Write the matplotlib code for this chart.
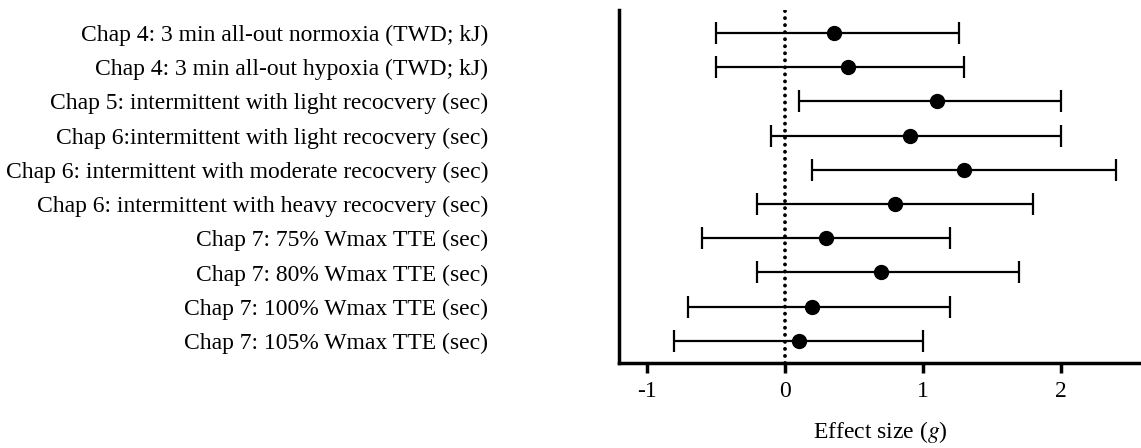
import matplotlib.pyplot as plt

# 数据（从图上读出的效应量及置信区间）
labels = [
    "Chap 4: 3 min all-out normoxia (TWD; kJ)",
    "Chap 4: 3 min all-out hypoxia (TWD; kJ)",
    "Chap 5: intermittent with light recocvery (sec)",
    "Chap 6:intermittent with light recocvery (sec)",
    "Chap 6: intermittent with moderate recocvery (sec)",
    "Chap 6: intermittent with heavy recocvery (sec)",
    "Chap 7: 75% Wmax TTE (sec)",
    "Chap 7: 80% Wmax TTE (sec)",
    "Chap 7: 100% Wmax TTE (sec)",
    "Chap 7: 105% Wmax TTE (sec)",
]
effect = [0.36, 0.46, 1.10, 0.91, 1.30, 0.80, 0.30, 0.70, 0.20, 0.10]
lower = [-0.50, -0.50, 0.10, -0.10, 0.20, -0.20, -0.60, -0.20, -0.70, -0.80]
upper = [1.26, 1.30, 2.00, 2.00, 2.40, 1.80, 1.20, 1.70, 1.20, 1.00]
xticks = [-1, 0, 1, 2]

plt.rcParams['font.family'] = ['Liberation Serif', 'DejaVu Serif']
plt.rcParams['mathtext.fontset'] = 'stix'

fig = plt.figure(figsize=(11.41, 4.48), dpi=100)
ax = fig.add_axes([0.5425, 0.19, 0.4575, 0.788])

n = len(labels)
ypos = [n - 1 - i for i in range(n)]
err_lo = [e - l for e, l in zip(effect, lower)]
err_hi = [u - e for e, u in zip(effect, upper)]

# 零线（点线）
ax.axvline(0, color='black', linestyle=(0, (0.01, 1.8)), linewidth=2.8,
           dash_capstyle='round', zorder=1)
ax.errorbar(effect, ypos, xerr=[err_lo, err_hi], fmt='o', color='black',
            markersize=10, elinewidth=1.6, capsize=8, capthick=1.6, zorder=3)

ax.set_xlim(-1.2, 2.58)
ax.set_ylim(-0.64, 9.67)
ax.set_xticks(xticks)
ax.set_xticklabels([str(t) for t in xticks], fontsize=17)
ax.set_yticks(ypos)
ax.set_yticklabels(labels, fontsize=17)
ax.tick_params(axis='y', length=0, pad=94)
ax.tick_params(axis='x', length=7, width=2.5, pad=6)
ax.set_xlabel("Effect size ($g$)", fontsize=17, labelpad=12)

for s in ['top', 'right']:
    ax.spines[s].set_visible(False)
for s in ['left', 'bottom']:
    ax.spines[s].set_linewidth(2.5)

plt.savefig("out.png", dpi=100)
